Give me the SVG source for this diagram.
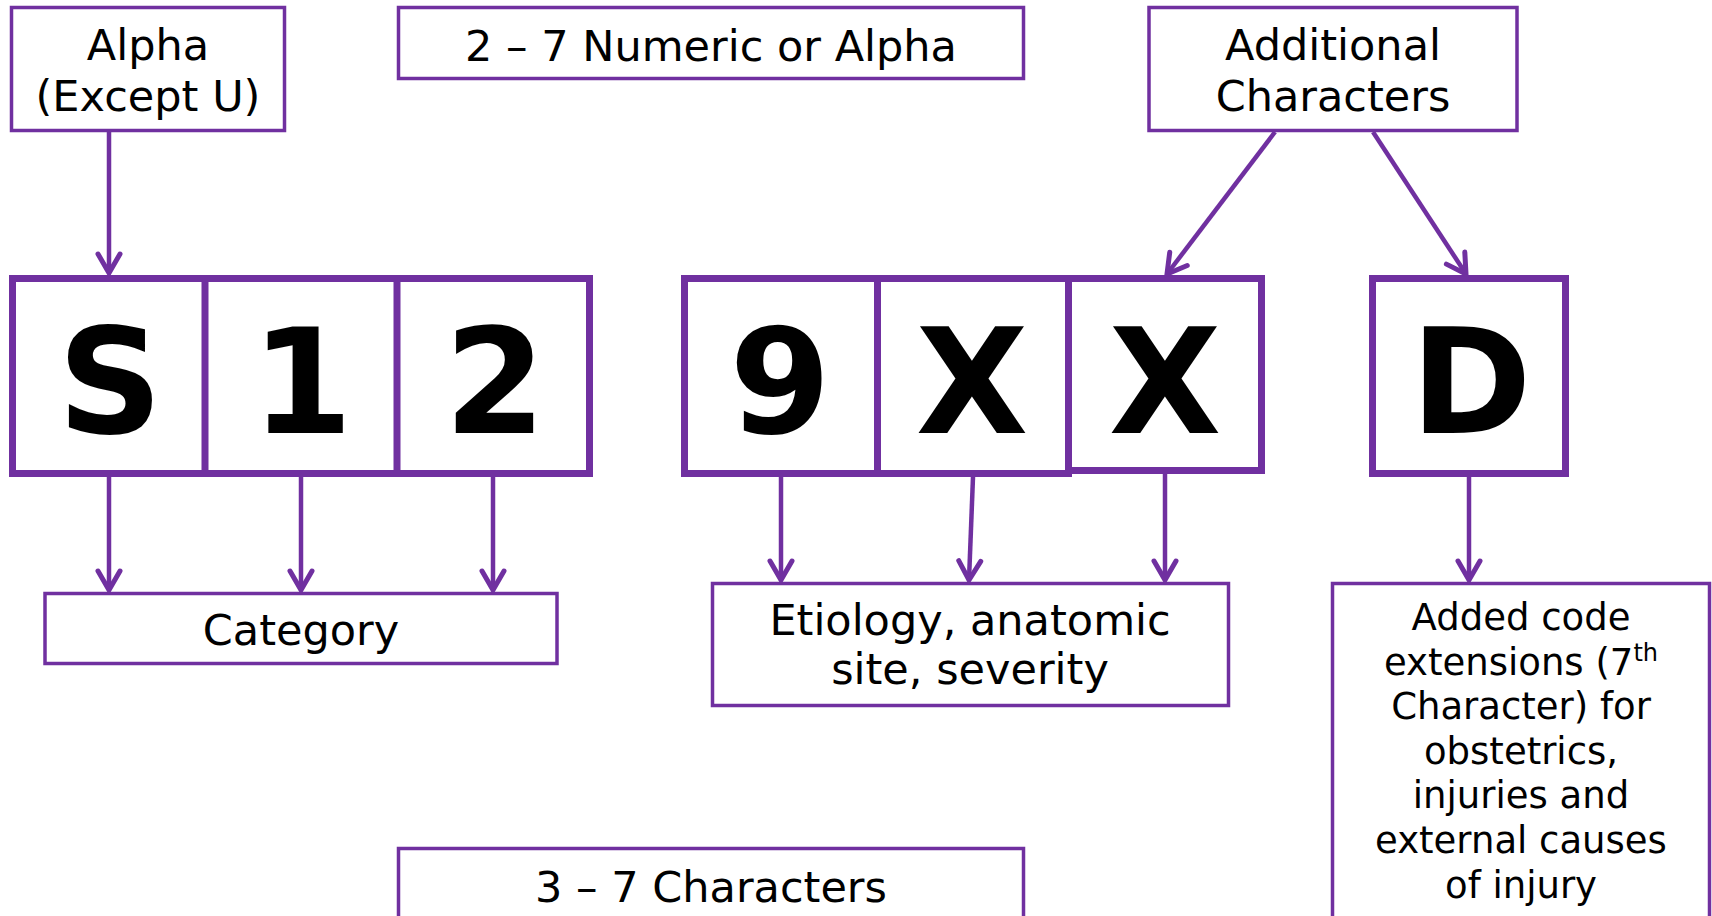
<svg xmlns="http://www.w3.org/2000/svg" width="1712" height="916" viewBox="0 0 1712 916">
<style>
.box{fill:#fff;stroke:#7030A0;stroke-width:3.5}
.cell{fill:#fff;stroke:#7030A0;stroke-width:7}
.lbl{font-family:"DejaVu Sans",Verdana,sans-serif;font-size:43px;fill:#000;text-anchor:middle}
.sm{font-family:"DejaVu Sans",Verdana,sans-serif;font-size:37px;fill:#000;text-anchor:middle}
.big{font-family:"DejaVu Sans",Verdana,sans-serif;font-size:146px;font-weight:bold;fill:#000;text-anchor:middle}
.con{fill:none;stroke:#7030A0;stroke-width:4.5;marker-end:url(#ah)}
</style>
<defs>
<marker id="ah" markerUnits="userSpaceOnUse" orient="auto" overflow="visible" refX="0" refY="0" markerWidth="1" markerHeight="1">
<path d="M-19,-11 L0,0 L-19,11" fill="none" stroke="#7030A0" stroke-width="5" stroke-linecap="round"/>
</marker>
</defs>
<rect width="1712" height="916" fill="#fff"/>

<g id="alpha">
<rect class="box" x="11.5" y="7.5" width="273" height="123"/>
<text class="lbl" x="148" y="60">Alpha</text>
<text class="lbl" x="148" y="111">(Except U)</text>
</g>

<g id="numeric">
<rect class="box" x="398.5" y="7.5" width="625" height="71"/>
<text class="lbl" x="711" y="61">2 – 7 Numeric or Alpha</text>
</g>

<g id="additional">
<rect class="box" x="1149" y="7.5" width="368" height="123"/>
<text class="lbl" x="1333" y="60">Additional</text>
<text class="lbl" x="1333" y="111">Characters</text>
</g>

<g id="s12">
<rect class="cell" x="12.5" y="278.5" width="577" height="195"/>
<line x1="205" y1="278" x2="205" y2="474" stroke="#7030A0" stroke-width="7"/>
<line x1="397" y1="278" x2="397" y2="474" stroke="#7030A0" stroke-width="7"/>
<text class="big" x="110" y="433">S</text>
<text class="big" x="302" y="433">1</text>
<text class="big" x="495" y="433">2</text>
</g>

<g id="c9">
<rect class="cell" x="684.5" y="278.5" width="193" height="195"/>
<text class="big" x="780" y="433">9</text>
</g>
<g id="cx1">
<rect class="cell" x="877.5" y="278.5" width="191" height="195"/>
<text class="big" x="972" y="433">X</text>
</g>
<g id="cx2">
<rect class="cell" x="1068.5" y="278.5" width="193" height="192"/>
<text class="big" x="1165" y="433">X</text>
</g>

<g id="d">
<rect class="cell" x="1372.5" y="278.5" width="193" height="195"/>
<text class="big" x="1471" y="433">D</text>
</g>

<g id="category">
<rect class="box" x="45" y="593.5" width="512" height="70"/>
<text class="lbl" x="301" y="645">Category</text>
</g>

<g id="etiology">
<rect class="box" x="712.5" y="583.5" width="516" height="122"/>
<text class="lbl" x="970" y="635">Etiology, anatomic</text>
<text class="lbl" x="970" y="684">site, severity</text>
</g>

<g id="added">
<rect class="box" x="1332.5" y="583.5" width="377" height="345"/>
<text class="sm" x="1521" y="630">Added code</text>
<text class="sm" x="1521" y="675">extensions (7<tspan font-size="24" dy="-14">th</tspan></text>
<text class="sm" x="1521" y="719">Character) for</text>
<text class="sm" x="1521" y="764">obstetrics,</text>
<text class="sm" x="1521" y="808">injuries and</text>
<text class="sm" x="1521" y="853">external causes</text>
<text class="sm" x="1521" y="898">of injury</text>
</g>

<g id="chars">
<rect class="box" x="398.5" y="848.5" width="625" height="80"/>
<text class="lbl" x="711" y="902">3 – 7 Characters</text>
</g>

<g id="connectors">
<path class="con" d="M109,132 L109,273"/>
<path class="con" d="M1275,132 L1167,274"/>
<path class="con" d="M1373,132 L1466,274"/>
<path class="con" d="M109,477 L109,590"/>
<path class="con" d="M301,477 L301,590"/>
<path class="con" d="M493,477 L493,590"/>
<path class="con" d="M781,477 L781,580"/>
<path class="con" d="M973,477 L969,580"/>
<path class="con" d="M1165,474 L1165,580"/>
<path class="con" d="M1469,477 L1469,580"/>
</g>
</svg>
